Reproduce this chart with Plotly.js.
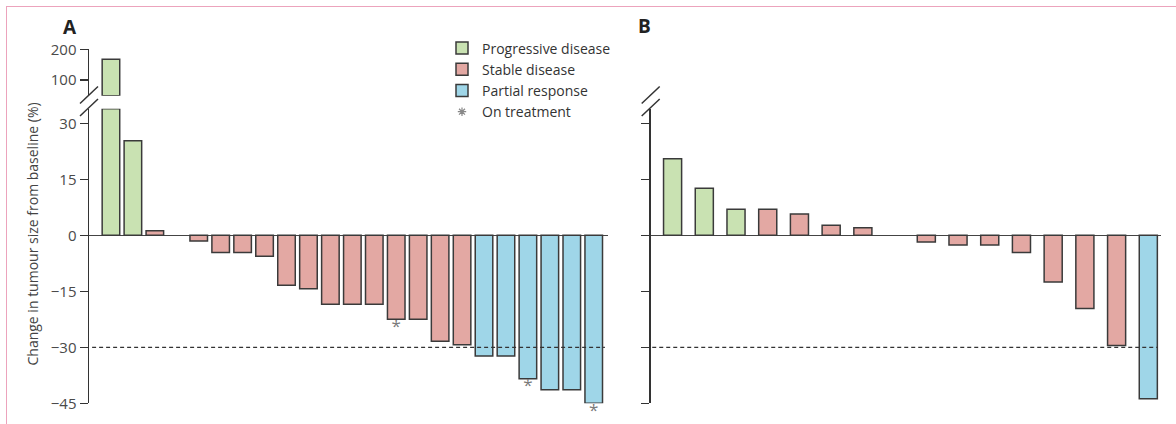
<!DOCTYPE html>
<html>
<head>
<meta charset="utf-8">
<script src="https://cdn.plot.ly/plotly-3.0.1.min.js"></script>
<style>
html,body{margin:0;padding:0;background:#fff;}
#chart{width:1176px;height:424px;position:absolute;left:0;top:0;}
#frame{position:absolute;left:6px;top:6px;width:1220px;height:460px;border-left:1.5px solid #eca3bc;border-top:1.5px solid #eca3bc;pointer-events:none;}
</style>
</head>
<body>
<div id="chart"></div>
<div id="frame"></div>
<script>
// ---------- Panel A data ----------
const aSlot = [1, 2, 3, 5, 6, 7, 8, 9, 10, 11, 12, 13, 14, 15, 16, 17, 18, 19, 20, 21, 22, 23];
const aChange = [168, 25.3, 1.2, -1.5, -4.6, -4.6, -5.6, -13.4, -14.3, -18.5, -18.5, -18.5, -22.5, -22.5, -28.4, -29.3, -32.3, -32.3, -38.4, -41.4, -41.4, -45];
const aResponse = ['PD','PD','SD','SD','SD','SD','SD','SD','SD','SD','SD','SD','SD','SD','SD','SD','PR','PR','PR','PR','PR','PR'];
const aOnTreatment = [0,0,0,0,0,0,0,0,0,0,0,0,1,0,0,0,0,0,1,0,0,1];

// ---------- Panel B data ----------
const bSlot = [1, 2, 3, 4, 5, 6, 7, 9, 10, 11, 12, 13, 14, 15, 16];
const bChange = [20.5, 12.6, 7.0, 7.0, 5.7, 2.7, 2.0, -1.8, -2.6, -2.6, -4.6, -12.5, -19.6, -29.5, -43.8];
const bResponse = ['PD','PD','PD','SD','SD','SD','SD','SD','SD','SD','SD','SD','SD','SD','PR'];
const bOnTreatment = [0,0,0,0,0,0,0,0,0,0,0,0,0,0,0];

// ---------- categories / ticks ----------
const responseCodes = ['PD', 'SD', 'PR'];
const responseNames = {PD: 'Progressive disease', SD: 'Stable disease', PR: 'Partial response'};
const responseColors = {PD: '#c9e2b2', SD: '#e3a8a3', PR: '#9fd6e8'};
const onTreatmentName = 'On treatment';
const lowerTickVals = [-45, -30, -15, 0, 15, 30];
const upperTickVals = [100, 200];
const prThreshold = -30;

// ---------- layout constants ----------
const W = 1176, H = 424;
const px = v => v / W;
const py = v => 1 - v / H;
const LOWER_RANGE = [-45, 33.9];
const UPPER_RANGE = [49, 200];
const FONT = 'Open Sans, Noto Sans, sans-serif';
const OUTLINE = '#3a3a3a';

function barTraces(slots, values, resp, xa, yLow, yUp, width, showLegend) {
  const lower = [], upper = [];
  responseCodes.forEach(code => {
    const idx = resp.map((r, i) => r === code ? i : -1).filter(i => i >= 0);
    if (!idx.length) return;
    const common = {
      type: 'bar', name: responseNames[code], legendgroup: code,
      marker: {color: responseColors[code], line: {color: OUTLINE, width: 1.5}},
      width: width, xaxis: xa, hoverinfo: 'x+y', cliponaxis: false
    };
    lower.push(Object.assign({}, common, {
      x: idx.map(i => slots[i]),
      y: idx.map(i => Math.min(values[i], LOWER_RANGE[1])),
      yaxis: yLow, showlegend: showLegend
    }));
    const up = idx.filter(i => values[i] > LOWER_RANGE[1]);
    if (up.length) {
      upper.push(Object.assign({}, common, {
        x: up.map(i => slots[i]),
        y: up.map(i => values[i] - UPPER_RANGE[0]),
        base: up.map(() => UPPER_RANGE[0]),
        yaxis: yUp, showlegend: false
      }));
    }
  });
  return {lower, upper};
}

function starTrace(slots, values, onT, xa, ya) {
  const idx = onT.map((f, i) => f ? i : -1).filter(i => i >= 0);
  return {
    type: 'scatter', mode: 'text', x: idx.map(i => slots[i]), y: idx.map(i => values[i]),
    text: idx.map(() => '*'), textposition: 'bottom center',
    textfont: {family: FONT, size: 17, color: '#7a7a7a'},
    xaxis: xa, yaxis: ya, showlegend: false, hoverinfo: 'skip', cliponaxis: false
  };
}

const A = barTraces(aSlot, aChange, aResponse, 'x', 'y', 'y2', 0.8, true);
const B = barTraces(bSlot, bChange, bResponse, 'x2', 'y3', 'y4', 0.57, false);

const legendStar = {
  type: 'scatter', mode: 'markers', x: [null], y: [null], name: onTreatmentName,
  marker: {symbol: 'asterisk-open', size: 7, color: '#888', line: {color: '#888', width: 1.2}},
  xaxis: 'x', yaxis: 'y', showlegend: true
};

const traces = [].concat(A.lower, [legendStar], A.upper, B.lower, B.upper,
  [starTrace(aSlot, aChange, aOnTreatment, 'x', 'y'), starTrace(bSlot, bChange, bOnTreatment, 'x2', 'y3')]);

function yAxisLower(anchor, labels) {
  return {
    domain: [py(403.3), py(108.7)], range: LOWER_RANGE, anchor: anchor,
    tickmode: 'array', tickvals: lowerTickVals, showticklabels: labels,
    ticks: 'outside', ticklen: 8, tickwidth: 1.5, tickcolor: '#333',
    showline: true, linecolor: '#333', linewidth: 1.5,
    zeroline: true, zerolinecolor: '#444', zerolinewidth: 1.5,
    showgrid: false, tickfont: {family: FONT, size: 15, color: '#4a4a4a'}, fixedrange: true
  };
}
function yAxisUpper(anchor, labels) {
  return {
    domain: [py(95.7), py(49.3)], range: UPPER_RANGE, anchor: anchor,
    tickmode: 'array', tickvals: upperTickVals, showticklabels: labels,
    ticks: 'outside', ticklen: 8, tickwidth: 1.5, tickcolor: '#333',
    showline: true, linecolor: '#333', linewidth: 1.5,
    zeroline: false, showgrid: false, tickfont: {family: FONT, size: 15, color: '#4a4a4a'}, fixedrange: true
  };
}
function xAxis(domain, range, anchor) {
  return {domain: domain, range: range, anchor: anchor, showticklabels: false, ticks: '',
    showline: false, showgrid: false, zeroline: false, fixedrange: true};
}

function slashes(axisPx) {
  return [95, 107.5].map(cy => ({
    type: 'line', xref: 'paper', yref: 'paper', layer: 'above',
    x0: px(axisPx - 9), y0: py(cy + 8.5), x1: px(axisPx + 9), y1: py(cy - 8.5),
    line: {color: '#333', width: 1.5}
  }));
}

const layout = {
  width: W, height: H, margin: {l: 0, r: 0, t: 0, b: 0},
  paper_bgcolor: 'rgba(0,0,0,0)', plot_bgcolor: 'rgba(0,0,0,0)',
  font: {family: FONT, color: '#333'},
  barmode: 'overlay', bargap: 0,
  xaxis: xAxis([px(89), px(608)], [0, 23.65], 'y'),
  yaxis: yAxisLower('x', true),
  yaxis2: yAxisUpper('x', true),
  xaxis2: xAxis([px(650.7), px(1161)], [0.31, 16.4], 'y3'),
  yaxis3: yAxisLower('x2', false),
  yaxis4: yAxisUpper('x2', false),
  showlegend: true,
  legend: {x: px(442), y: py(32.5), xanchor: 'left', yanchor: 'top', bgcolor: 'rgba(0,0,0,0)',
    font: {family: FONT, size: 14, color: '#333'}, tracegroupgap: 0, itemwidth: 30},
  shapes: [
    {type: 'line', xref: 'x domain', yref: 'y', x0: 0.006, x1: 0.994, y0: prThreshold, y1: prThreshold,
      line: {color: '#333', width: 1.3, dash: '4px,3px'}},
    {type: 'line', xref: 'x2 domain', yref: 'y3', x0: 0.003, x1: 0.994, y0: prThreshold, y1: prThreshold,
      line: {color: '#333', width: 1.3, dash: '4px,3px'}}
  ].concat(slashes(89), slashes(650.7)),
  annotations: [
    {text: '<b>A</b>', xref: 'paper', yref: 'paper', x: px(70), y: py(27), xanchor: 'center', yanchor: 'middle',
      showarrow: false, font: {family: FONT, size: 19, color: '#222'}},
    {text: '<b>B</b>', xref: 'paper', yref: 'paper', x: px(644), y: py(26), xanchor: 'center', yanchor: 'middle',
      showarrow: false, font: {family: FONT, size: 19, color: '#222'}},
    {text: 'Change in tumour size from baseline (%)', xref: 'paper', yref: 'paper', x: px(31.5), y: py(234),
      xanchor: 'center', yanchor: 'middle', textangle: -90, showarrow: false,
      font: {family: FONT, size: 14, color: '#444'}}
  ]
};

Plotly.newPlot('chart', traces, layout, {displayModeBar: false, staticPlot: true});
</script>
</body>
</html>
